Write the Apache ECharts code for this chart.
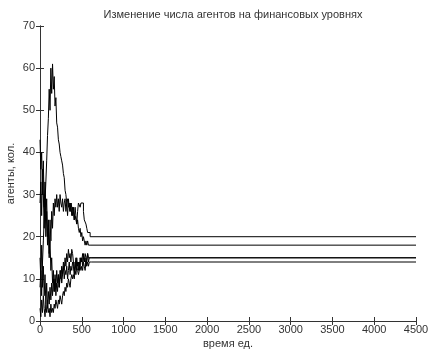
<!DOCTYPE html>
<html>
<head>
<meta charset="utf-8">
<script src="https://cdn.jsdelivr.net/npm/echarts@6/dist/echarts.min.js"></script>
<style>
  html, body { margin: 0; padding: 0; background: #fff; }
  #chart { width: 429px; height: 349px; }
</style>
</head>
<body>
<div id="chart"></div>
<script>
// время (шаг 10 до 620, затем хвост до 4500)
const times = [0, 10, 20, 30, 40, 50, 60, 70, 80, 90,
  100, 110, 120, 130, 140, 150, 160, 170, 180, 190,
  200, 210, 220, 230, 240, 250, 260, 270, 280, 290,
  300, 310, 320, 330, 340, 350, 360, 370, 380, 390,
  400, 410, 420, 430, 440, 450, 460, 470, 480, 490,
  500, 510, 520, 530, 540, 550, 560, 570, 580, 590,
  600, 610, 620, 4500]

// уровень с пиком ~61
const level1 = [8, 12, 6, 14, 19, 24, 28, 33, 38, 44,
  48, 55, 50, 60, 54, 61, 55, 58, 51, 53,
  47, 46, 43, 42, 40, 39, 38, 37, 35, 34,
  31, 30, 28, 29, 27, 28, 26, 28, 27, 25,
  27, 24, 25, 24, 23, 26, 28, 28, 27, 28,
  28, 28, 26, 24, 24, 23, 22, 21, 21, 21,
  20, 20, 20, 20]

// стартует с 43
const level2 = [43, 36, 40, 30, 38, 27, 33, 24, 29, 20,
  24, 16, 19, 12, 15, 9, 12, 7, 10, 6,
  9, 7, 11, 8, 12, 10, 13, 11, 14, 12,
  15, 13, 16, 14, 17, 15, 16, 14, 17, 16,
  14, 12, 13, 15, 13, 14, 12, 14, 13, 15,
  14, 16, 15, 14, 16, 15, 14, 16, 15, 15,
  15, 15, 15, 15]

// нижний уровень
const level3 = [3, 1, 5, 2, 6, 3, 1, 4, 2, 5,
  2, 3, 1, 4, 2, 3, 2, 4, 3, 5,
  4, 3, 5, 4, 6, 5, 4, 6, 7, 6,
  8, 7, 9, 8, 10, 9, 8, 10, 11, 10,
  11, 10, 12, 11, 13, 12, 11, 12, 13, 12,
  13, 12, 14, 13, 12, 14, 13, 14, 13, 14,
  14, 14, 14, 14]

const level4 = [15, 10, 18, 8, 13, 6, 11, 4, 9, 3,
  7, 4, 8, 5, 9, 6, 10, 7, 11, 8,
  12, 9, 11, 8, 10, 12, 9, 11, 13, 10,
  12, 11, 13, 10, 12, 14, 11, 13, 12, 14,
  13, 11, 14, 12, 15, 13, 14, 12, 15, 14,
  15, 13, 16, 14, 15, 13, 15, 16, 14, 15,
  15, 15, 15, 15]

// «горб» около 28
const level5 = [28, 33, 25, 36, 30, 22, 30, 20, 26, 18,
  22, 15, 24, 19, 26, 22, 28, 25, 29, 27,
  30, 27, 29, 26, 30, 28, 27, 29, 26, 28,
  29, 26, 28, 25, 29, 27, 26, 28, 25, 27,
  26, 24, 27, 25, 23, 24, 22, 21, 22, 20,
  21, 19, 20, 19, 18, 19, 18, 19, 18, 18,
  18, 18, 18, 18]

const chart = echarts.init(document.getElementById('chart'))

const toPairs = (vals) => times.map((t, i) => [t, vals[i]])

const textFont = 'Liberation Sans, Arial, sans-serif'

const axisCommon = {
  axisLine: { show: true, lineStyle: { color: '#333', width: 1 } },
  axisTick: { show: true, inside: true, length: 4, lineStyle: { color: '#333' } },
  splitLine: { show: false }
}

const option = {
  animation: false,
  title: {
    text: 'Изменение числа агентов на финансовых уровнях',
    left: 228,
    textAlign: 'center',
    top: 4,
    textStyle: { fontSize: 11, fontWeight: 'normal', color: '#333', fontFamily: textFont }
  },
  grid: { left: 40, right: 13, top: 26, bottom: 28, outerBoundsMode: 'none', containLabel: false },
  xAxis: [
    {
      type: 'value', min: 0, max: 4500, interval: 500,
      name: 'время ед.', nameLocation: 'middle', nameGap: 17, nameMoveOverlap: false,
      nameTextStyle: { fontSize: 11, color: '#333', fontFamily: textFont },
      axisLabel: { fontSize: 11, color: '#333', margin: 3, fontFamily: textFont,
        formatter: (v) => String(v) },
      ...axisCommon
    },
    {
      type: 'value', position: 'top', min: 0, max: 4500, interval: 500,
      axisLabel: { show: false },
      ...axisCommon
    }
  ],
  yAxis: [
    {
      type: 'value', min: 0, max: 70, interval: 10,
      name: 'агенты, кол.', nameLocation: 'middle', nameGap: 24, nameMoveOverlap: false,
      nameTextStyle: { fontSize: 11, color: '#333', fontFamily: textFont },
      axisLabel: { fontSize: 11, color: '#333', margin: 5, fontFamily: textFont },
      ...axisCommon
    },
    {
      type: 'value', position: 'right', min: 0, max: 70, interval: 10,
      axisLabel: { show: false },
      ...axisCommon
    }
  ],
  series: [level1, level2, level3, level4, level5].map((vals, i) => ({
    name: 'уровень ' + (i + 1),
    type: 'line',
    step: 'end',
    symbol: 'none',
    data: toPairs(vals),
    lineStyle: { color: '#000', width: 1 }
  }))
}

chart.setOption(option)
</script>
</body>
</html>
